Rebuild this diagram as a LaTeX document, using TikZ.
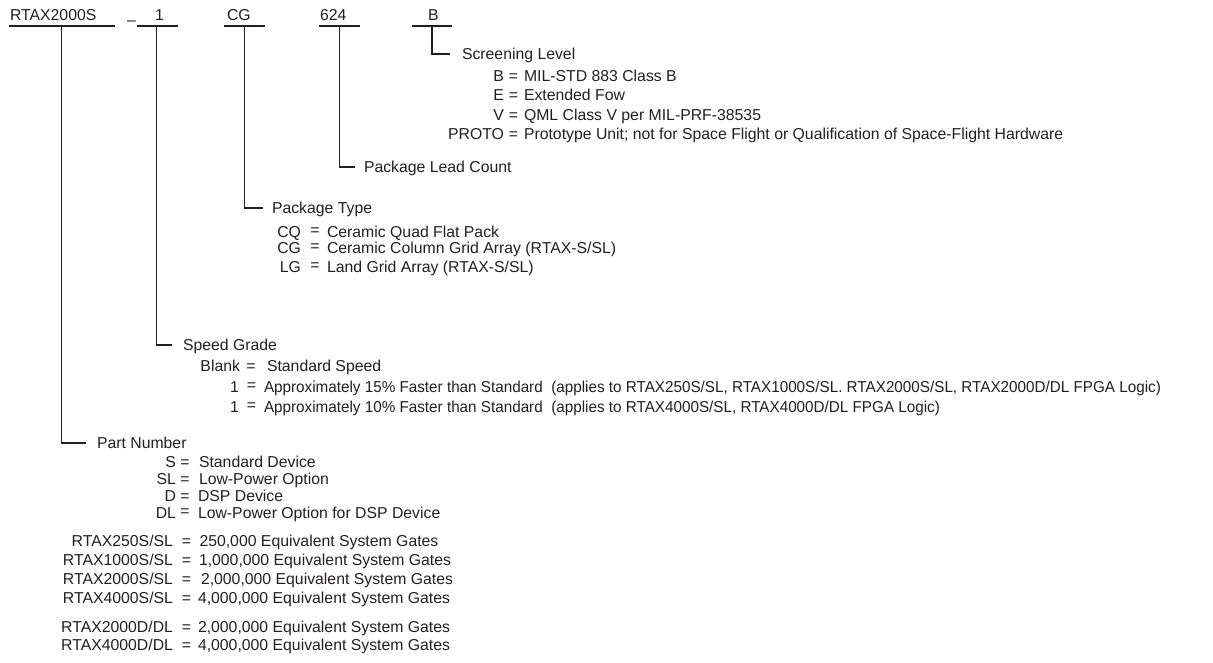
\documentclass[tikz,border=0pt]{standalone}
\usepackage{fontspec}
\usepackage{graphicx}
\setmainfont{Liberation Sans}
\definecolor{ink}{HTML}{231F20}
\tikzset{
  txt/.style={inner sep=0pt, outer sep=0pt, text=ink, font=\fontsize{15.8}{18}\selectfont},
  ln/.style={line width=1.8pt, draw=ink},
}
% #1 name, #2 y centre, #3 code right x, #4 eq centre x, #5 desc left x, #6 code, #7 desc, #8 eq sign
\newcommand\entryrow[8]{%
  \node[txt,anchor=base east] (#1c) at (#3,#2+5.5) {#6};
  \node[txt,anchor=base] (#1e) at (#4,#2+5.5) {#8};
  \node[txt,anchor=base west] (#1d) at (#5,#2+5.5) {#7};}
\newcommand\req{\raisebox{2pt}{=}}
\newcommand\narrowtxt[1]{\scalebox{0.965}[1]{#1}}
\begin{document}
\begin{tikzpicture}[x=1pt,y=-1pt]
\useasboundingbox (0,0) rectangle (1213,662);

% ---------- header ----------
\node[txt,anchor=base west] (rt)  at (10,20)  {RTAX2000S};
\node[txt,anchor=base west] (dash) at (127,25.5) {–};
\node[txt,anchor=base west] (one) at (155,20) {1};
\node[txt,anchor=base west] (cg)  at (227,20) {CG};
\node[txt,anchor=base west] (lc)  at (320,20) {624};
\node[txt,anchor=base west] (bb)  at (428,20) {B};

\coordinate (rtA) at (9,26);   \coordinate (rtB) at (115,26); \coordinate (rtU) at (61.5,26);
\coordinate (oneA) at (137,26); \coordinate (oneB) at (178,26); \coordinate (oneU) at (156.5,26);
\coordinate (cgA) at (224,26); \coordinate (cgB) at (265,26); \coordinate (cgU) at (244.5,26);
\coordinate (lcA) at (319,26); \coordinate (lcB) at (360,26); \coordinate (lcU) at (339.5,26);
\coordinate (bbA) at (412,26); \coordinate (bbB) at (452,26); \coordinate (bbU) at (432,26);
\foreach \u in {rt,one,cg,lc,bb} \draw[ln] (\u A) -- (\u B);

% ---------- screening level ----------
\node[txt,anchor=base west] (sl) at (462,54+5.5) {Screening Level};
\draw[ln] (bbU) |- ([xshift=-12pt,yshift=5.5pt]sl.base west);
\entryrow{sb}{76}{504}{513.5}{524}{B}{MIL-STD 883 Class B}{=}
\entryrow{se}{95}{504}{513.5}{524}{E}{Extended Fow}{=}
\entryrow{sv}{115}{504}{513.5}{524}{V}{QML Class V per MIL-PRF-38535}{=}
\entryrow{sp}{134}{504}{513.5}{524}{PROTO}{Prototype Unit; not for Space Flight or Qualification of Space-Flight Hardware}{=}

% ---------- package lead count ----------
\node[txt,anchor=base west] (plc) at (364,167+5.5) {Package Lead Count};
\draw[ln] (lcU) |- ([xshift=-9pt,yshift=5.5pt]plc.base west);

% ---------- package type ----------
\node[txt,anchor=base west] (pt) at (272,208+5.5) {Package Type};
\draw[ln] (cgU) |- ([xshift=-9pt,yshift=5.5pt]pt.base west);
\entryrow{pq}{232}{301}{315}{327}{CQ}{Ceramic Quad Flat Pack}{\req}
\entryrow{pg}{248}{301}{315}{327}{CG}{Ceramic Column Grid Array (RTAX-S/SL)}{\req}
\entryrow{pl}{267}{301}{315}{327}{LG}{Land Grid Array (RTAX-S/SL)}{\req}

% ---------- speed grade ----------
\node[txt,anchor=base west] (sg) at (183,345+5.5) {Speed Grade};
\draw[ln] (oneU) |- ([xshift=-11pt,yshift=5.5pt]sg.base west);
\entryrow{gb}{366}{240}{251}{267}{Blank}{Standard Speed}{=}
\entryrow{g1}{387}{239}{251.5}{264}{1}{\narrowtxt{Approximately 15\% Faster than Standard\ \ (applies to RTAX250S/SL, RTAX1000S/SL. RTAX2000S/SL, RTAX2000D/DL FPGA Logic)}}{\req}
\entryrow{g2}{407}{239}{251.5}{264}{1}{\narrowtxt{Approximately 10\% Faster than Standard\ \ (applies to RTAX4000S/SL, RTAX4000D/DL FPGA Logic)}}{\req}

% ---------- part number ----------
\node[txt,anchor=base west] (pn) at (97,443+5.5) {Part Number};
\draw[ln] (rtU) |- ([xshift=-11pt,yshift=5.5pt]pn.base west);
\entryrow{ns}{462}{176}{185}{199}{S}{Standard Device}{=}
\entryrow{nsl}{479}{176}{185}{199}{SL}{Low-Power Option}{=}
\entryrow{nd}{496}{176}{185}{198}{D}{DSP Device}{=}
\entryrow{ndl}{513}{176}{185}{198}{DL}{Low-Power Option for DSP Device}{\req}

\entryrow{r1}{541}{173}{186.5}{199.5}{RTAX250S/SL}{250,000 Equivalent System Gates}{=}
\entryrow{r2}{560}{173}{186.5}{199}{RTAX1000S/SL}{1,000,000 Equivalent System Gates}{=}
\entryrow{r3}{579}{173}{186.5}{201}{RTAX2000S/SL}{2,000,000 Equivalent System Gates}{=}
\entryrow{r4}{598}{173}{186.5}{198}{RTAX4000S/SL}{4,000,000 Equivalent System Gates}{=}
\entryrow{r5}{627}{173}{186.5}{198}{RTAX2000D/DL}{2,000,000 Equivalent System Gates}{=}
\entryrow{r6}{645}{173}{186.5}{198}{RTAX4000D/DL}{4,000,000 Equivalent System Gates}{=}
\end{tikzpicture}
\end{document}
